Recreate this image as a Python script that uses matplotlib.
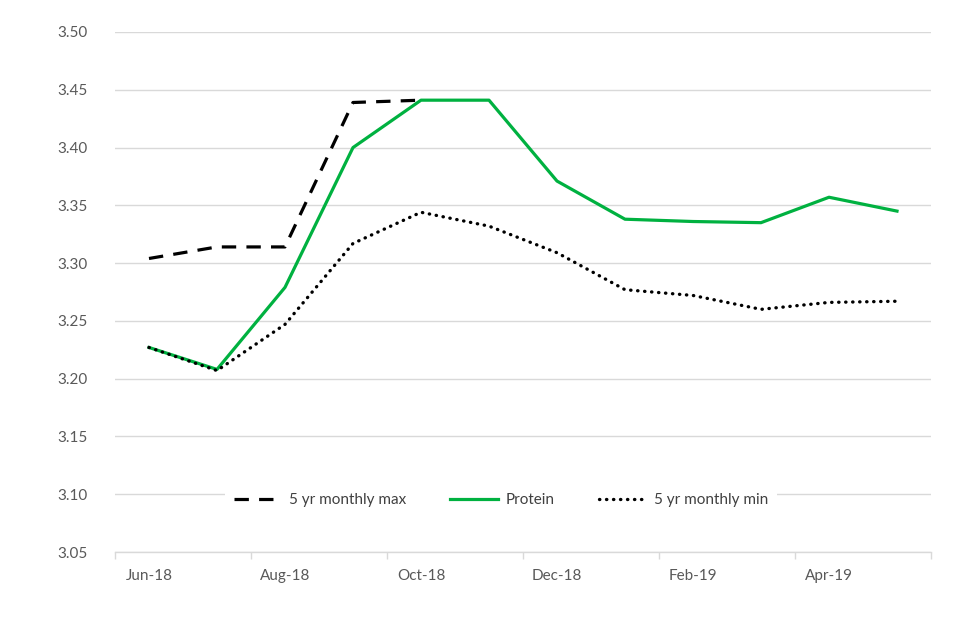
import matplotlib
matplotlib.use('Agg')
import matplotlib.pyplot as plt
from matplotlib.ticker import FixedLocator, FormatStrFormatter

months = ['Jun-18', 'Jul-18', 'Aug-18', 'Sep-18', 'Oct-18', 'Nov-18',
          'Dec-18', 'Jan-19', 'Feb-19', 'Mar-19', 'Apr-19', 'May-19']
max_5yr = [3.304, 3.314, 3.314, 3.439, 3.441]
protein = [3.227, 3.208, 3.279, 3.400, 3.441, 3.441, 3.371, 3.338, 3.336, 3.335, 3.357, 3.345]
min_5yr = [3.227, 3.207, 3.247, 3.317, 3.344, 3.332, 3.309, 3.277, 3.272, 3.260, 3.266, 3.267]

plt.rcParams['font.family'] = ['Lato', 'DejaVu Sans']

fig = plt.figure(figsize=(9.6, 6.4), dpi=100)
ax = fig.add_axes([115/960, 1 - 552/640, 816/960, 520/640])

x = list(range(len(months)))
ax.plot(x[:len(max_5yr)], max_5yr, color='black', lw=2.3, linestyle=(0, (4.5, 3.2)),
        label='5 yr monthly max', solid_capstyle='butt', dash_capstyle='butt')
ax.plot(x, protein, color='#00b140', lw=2.3, label='Protein')
ax.plot(x, min_5yr, color='black', lw=2.4, linestyle=(0, (0.1, 2.0)),
        dash_capstyle='round', label='5 yr monthly min')

ax.set_ylim(3.05, 3.50)
ax.set_yticks([3.05 + 0.05 * i for i in range(10)])
ax.yaxis.set_major_formatter(FormatStrFormatter('%.2f'))
ax.set_xlim(-0.5, len(months) - 0.5)
ax.set_xticks(x[::2])
ax.set_xticklabels(months[::2])
ax.xaxis.set_minor_locator(FixedLocator([i - 0.5 for i in range(0, len(months) + 1, 2)]))

ax.grid(axis='y', color='#d9d9d9', lw=1)
ax.set_axisbelow(True)
for s in ['top', 'right', 'left']:
    ax.spines[s].set_visible(False)
ax.spines['bottom'].set_color('#d9d9d9')
ax.spines['bottom'].set_linewidth(1)

ax.tick_params(axis='y', length=0, pad=20, labelsize=11, labelcolor='#595959')
ax.tick_params(axis='x', which='major', length=0, pad=12, labelsize=11, labelcolor='#595959')
ax.tick_params(axis='x', which='minor', length=5, color='#d9d9d9', width=1)

leg = ax.legend(loc='center', bbox_to_anchor=(0.473, 0.1), ncol=3, frameon=True,
                facecolor='white', edgecolor='none', framealpha=1, fontsize=11,
                handlelength=3.1, handletextpad=0.5, columnspacing=2.9,
                borderpad=0.6, fancybox=False)
for t in leg.get_texts():
    t.set_color('#404040')

fig.savefig('out.png', dpi=100)
